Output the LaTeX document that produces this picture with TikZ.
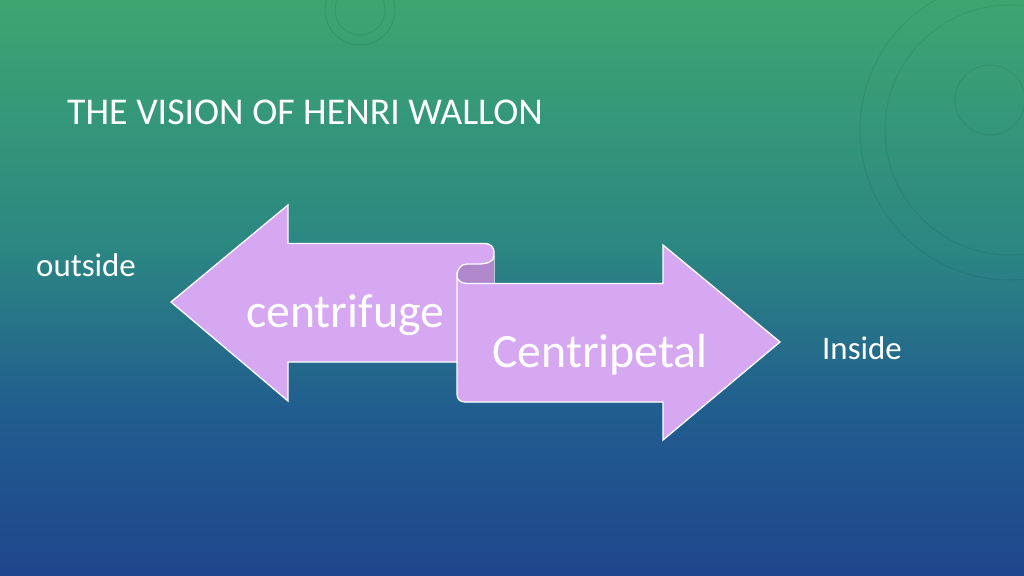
\documentclass[tikz,border=0pt]{standalone}
\usepackage{fontspec}
\setmainfont{Carlito}
\definecolor{arrowfill}{RGB}{214,168,242}
\definecolor{curlfill}{RGB}{178,136,204}
\pgfdeclareverticalshading{bgshade}{100bp}{rgb(0bp)=(0.12,0.27,0.55); rgb(25bp)=(0.12,0.27,0.55); rgb(39.8bp)=(0.13,0.37,0.56); rgb(53.6bp)=(0.17,0.53,0.51); rgb(75bp)=(0.24,0.65,0.44); rgb(100bp)=(0.24,0.65,0.44)}
\tikzset{
  arrowshape/.style={fill=arrowfill, draw=white, line width=1.3bp, line join=miter},
  curlshape/.style={fill=curlfill},
  curlline/.style={draw=white, line width=1.3bp},
  bigtext/.style={text=white, font=\fontsize{48}{56}\selectfont, inner sep=0pt, anchor=base west},
  sidetext/.style={text=white, font=\fontsize{33}{38}\selectfont, inner sep=0pt, anchor=base west},
  titletext/.style={text=white, font=\fontsize{38}{44}\selectfont, inner sep=0pt, anchor=base west},
  decor/.style={draw=black, opacity=0.07, line width=1bp}
}
\begin{document}
\begin{tikzpicture}[x=1bp, y=-1bp]
\useasboundingbox (0,0) rectangle (1024,576);
% background
\shade[shading=bgshade] (0,0) rectangle (1024,576);
% faint decorative circles
\draw[decor] (1010,130) circle (150);
\draw[decor] (1010,130) circle (125);
\draw[decor] (990,100) circle (35);
\draw[decor] (360,10) circle (35);
\draw[decor] (360,10) circle (25);

% title
\node[titletext] (title) at (67,125) {THE VISION OF HENRI WALLON};

% left arrow (centrifuge)
\path[arrowshape] (171,302) -- (288,205) -- (288,243.5) -- (485,243.5)
   .. controls (490,243.5) and (494,247) .. (494,252) -- (494,362) -- (288,362)
   -- (288,401) -- cycle;
% back side of the curl
\path[curlshape] (494,256) .. controls (494,262) and (486,264) .. (478,264) -- (467,264)
   .. controls (461,264) and (457,269) .. (457,276) -- (457,283) -- (494,283) -- cycle;
\draw[curlline] (494,256) .. controls (494,262) and (486,264) .. (478,264) -- (467,264)
   .. controls (461,264) and (457,269) .. (457,276);
% right arrow (centripetal)
\path[arrowshape] (457,276) .. controls (457,280) and (461,283.5) .. (467,283.5)
   -- (663,283.5) -- (663,245) -- (780,342) -- (663,440) -- (663,402)
   -- (465,402) .. controls (460,402) and (457,399) .. (457,394) -- cycle;

% labels
\node[bigtext] (cf) at (246,327) {centrifuge};
\node[bigtext] (cp) at (492,367) {Centripetal};
\node[sidetext] (out) at (36,277) {outside};
\node[sidetext] (in) at (822,359) {Inside};
\end{tikzpicture}
\end{document}
